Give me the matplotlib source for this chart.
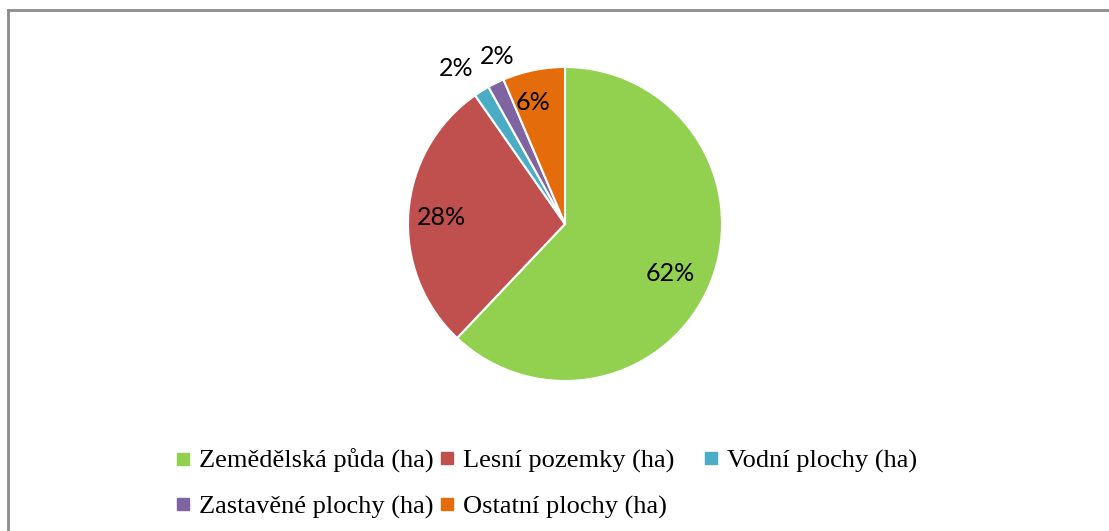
#!/usr/bin/env python3
"""Land use pie chart (ha shares) with a two-row legend below."""

import numpy as np
import matplotlib.pyplot as plt
from matplotlib.lines import Line2D

categories = ["Zemědělská půda (ha)", "Lesní pozemky (ha)", "Vodní plochy (ha)",
              "Zastavěné plochy (ha)", "Ostatní plochy (ha)"]
shares = [62.0, 28.2, 1.6, 1.7, 6.4]
colors = ["#92D050", "#C0504D", "#4BACC6", "#8064A2", "#E46C0A"]
# label distance as fraction of radius, plus a small angle nudge (deg)
label_dist = [0.74, 0.79, 1.21, 1.15, 0.80]
label_nudge = [-3.5, 1.2, 3, -4, 3]

W, H = 1109, 531
fig = plt.figure(figsize=(W / 100, H / 100), dpi=100)
ax = fig.add_axes([0, 0, 1, 1])

cx, cy, r = 565, H - 224, 157
wedges, _ = ax.pie(shares, colors=colors, startangle=90, counterclock=False,
                   center=(cx, cy), radius=r, frame=True,
                   wedgeprops=dict(edgecolor="white", linewidth=1.5))
ax.set_xlim(0, W)
ax.set_ylim(0, H)
ax.axis("off")

total = sum(shares)
for w, val, d, nd in zip(wedges, shares, label_dist, label_nudge):
    mid = np.deg2rad((w.theta1 + w.theta2) / 2 + nd)
    x = cx + d * r * np.cos(mid)
    y = cy + d * r * np.sin(mid)
    ax.text(x, y, f"{val / total * 100:.0f}%", ha="center", va="center",
            fontsize=18, family="Lato", color="black")

# border (only top and left edges visible in the crop)
fig.add_artist(Line2D([8 / W, 1], [1 - 10 / H, 1 - 10 / H], color="#8c8c8c", lw=2))
fig.add_artist(Line2D([8 / W, 8 / W], [0, 1 - 10 / H], color="#8c8c8c", lw=2))

# legend: equal-width grid of 3 columns, filled row by row
leg_kw = dict(frameon=False, prop={"family": "Liberation Serif", "size": 19},
              handlelength=0.6, handletextpad=0.3,
              borderpad=0, borderaxespad=0, loc="center left")
col_x0, col_w = 175, 264
row_y = [461, 507]
for i, (label, c) in enumerate(zip(categories, colors)):
    row, col = divmod(i, 3)
    h = Line2D([], [], marker="s", linestyle="none", markersize=8.5,
               markerfacecolor=c, markeredgecolor=c)
    leg = fig.legend([h], [label],
                     bbox_to_anchor=((col_x0 + col * col_w) / W, 1 - row_y[row] / H),
                     **leg_kw)

fig.savefig("out.png", dpi=100, facecolor="white")
